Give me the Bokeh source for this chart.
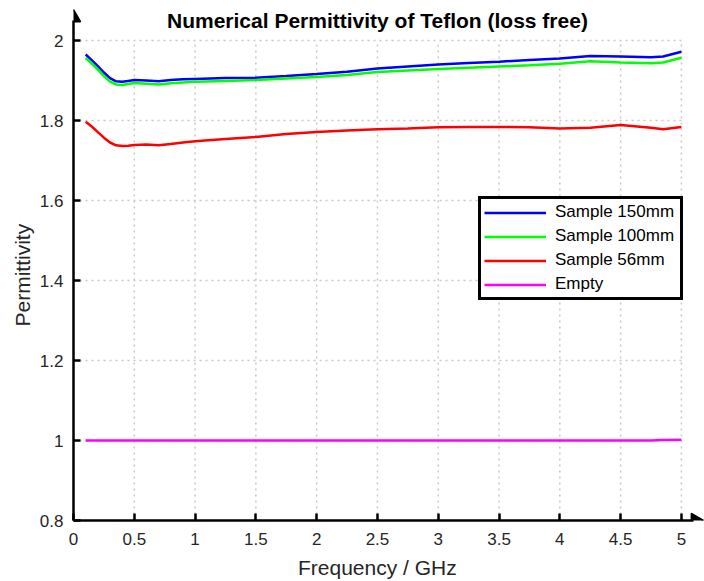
import math
from bokeh.plotting import figure
from bokeh.models import (Range1d, FixedTicker, CustomJSTickFormatter, Legend, LegendItem)
from bokeh.core.properties import value
from bokeh.embed import file_html
from bokeh.resources import INLINE

title_text = "Numerical Permittivity of Teflon (loss free)"
x_label = "Frequency / GHz"
y_label = "Permittivity"

freq = [0.1, 0.15, 0.2, 0.25, 0.3, 0.35, 0.4, 0.45, 0.5, 0.6, 0.7, 0.8, 0.9, 1.0, 1.25, 1.5,
        1.75, 2.0, 2.25, 2.5, 2.75, 3.0, 3.25, 3.5, 3.75, 4.0, 4.25, 4.5, 4.75, 4.85, 5.0]
sample_150 = [1.965, 1.951, 1.936, 1.920, 1.906, 1.898, 1.897, 1.899, 1.901, 1.900, 1.898,
              1.901, 1.903, 1.904, 1.906, 1.907, 1.911, 1.916, 1.922, 1.930, 1.935, 1.940,
              1.944, 1.947, 1.951, 1.955, 1.961, 1.960, 1.958, 1.960, 1.972]
sample_100 = [1.956, 1.942, 1.927, 1.911, 1.897, 1.890, 1.889, 1.891, 1.894, 1.892, 1.890,
              1.893, 1.895, 1.897, 1.899, 1.901, 1.905, 1.909, 1.914, 1.921, 1.925, 1.929,
              1.932, 1.935, 1.938, 1.942, 1.948, 1.945, 1.943, 1.945, 1.957]
sample_56 = [1.797, 1.785, 1.771, 1.757, 1.745, 1.738, 1.736, 1.737, 1.739, 1.740, 1.738,
             1.741, 1.745, 1.748, 1.754, 1.759, 1.766, 1.771, 1.775, 1.778, 1.780, 1.783,
             1.784, 1.784, 1.783, 1.780, 1.782, 1.789, 1.782, 1.778, 1.784]
empty = [1.0] * 29 + [1.001, 1.002]

x_ticks = [0, 0.5, 1, 1.5, 2, 2.5, 3, 3.5, 4, 4.5, 5]
y_ticks = [0.8, 1.0, 1.2, 1.4, 1.6, 1.8, 2.0]

FONT = "Liberation Sans"
TXT = "#262626"
NB = "\u00a0"

# frame extends a little beyond the data area so that the axis arrows fit in it
p = figure(width=704, height=581, output_backend="svg", toolbar_location=None, title=None,
           x_range=Range1d(0, 5.19), y_range=Range1d(0.8, 2.085),
           min_border_left=73, min_border_right=0, min_border_top=6, min_border_bottom=61)
p.outline_line_color = None
p.xgrid.visible = False
p.ygrid.visible = False

for ax in (p.xaxis[0], p.yaxis[0]):
    ax.axis_line_width = 2.5
    ax.axis_line_color = "#000000"
    ax.major_tick_in = 7
    ax.major_tick_out = 0
    ax.major_tick_line_width = 2.5
    ax.major_tick_line_color = "#000000"
    ax.minor_tick_line_color = None
    ax.major_label_text_font = FONT
    ax.major_label_text_font_size = "17px"
    ax.major_label_text_color = TXT
    ax.axis_label_text_font = FONT
    ax.axis_label_text_font_size = "21px"
    ax.axis_label_text_font_style = "normal"
    ax.axis_label_text_color = TXT
    ax.formatter = CustomJSTickFormatter(code="return Number(tick.toFixed(2)).toString();")

p.xaxis[0].ticker = FixedTicker(ticks=x_ticks)
p.yaxis[0].ticker = FixedTicker(ticks=y_ticks)
p.xaxis[0].bounds = (0, 5.1)
p.yaxis[0].bounds = (0.8, 2.05)
# non-breaking padding keeps the labels centred on the data area
p.xaxis[0].axis_label = x_label + NB * 4
p.yaxis[0].axis_label = y_label + NB * 4
p.xaxis[0].major_label_standoff = 12
p.yaxis[0].major_label_standoff = 10
p.xaxis[0].axis_label_standoff = 8
p.yaxis[0].axis_label_standoff = 3

# dotted grid over the data area only
nx, ny = len(x_ticks), len(y_ticks)
p.segment(x0=x_ticks, y0=[y_ticks[0]] * nx, x1=x_ticks, y1=[y_ticks[-1]] * nx,
          line_color="#c8c8c8", line_dash="2 4", line_width=1.5)
p.segment(x0=[x_ticks[0]] * ny, y0=y_ticks, x1=[x_ticks[-1]] * ny, y1=y_ticks,
          line_color="#c8c8c8", line_dash="2 4", line_width=1.5)

r1 = p.line(freq, sample_150, line_color="#0000ff", line_width=2.5)
r2 = p.line(freq, sample_100, line_color="#00ff00", line_width=2.5)
r3 = p.line(freq, sample_56, line_color="#ff0000", line_width=2.5)
r4 = p.line(freq, empty, line_color="#ff00ff", line_width=2.5)

# arrow heads at the ends of the axes
p.scatter(x=[x_ticks[0]], y=[2.057], marker="triangle", size=14,
          fill_color="black", line_color="black", line_width=1.5)
p.scatter(x=[5.115], y=[y_ticks[0]], marker="triangle", size=14, angle=-math.pi / 2,
          fill_color="black", line_color="black", line_width=1.5)

# title
p.text(x=[(x_ticks[0] + x_ticks[-1]) / 2], y=[2.05], text=[title_text],
       text_font=value(FONT), text_font_style="bold", text_font_size="21px",
       text_color="#000000", text_align="center", text_baseline="middle")

legend = Legend(items=[LegendItem(label="Sample 150mm", renderers=[r1]),
                       LegendItem(label="Sample 100mm", renderers=[r2]),
                       LegendItem(label="Sample 56mm", renderers=[r3]),
                       LegendItem(label="Empty", renderers=[r4])],
                location=(405, 220))
legend.border_line_color = "#000000"
legend.border_line_alpha = 1.0
legend.border_line_width = 3
legend.label_text_font = FONT
legend.label_text_font_size = "17px"
legend.label_text_color = "#000000"
legend.glyph_width = 62
legend.glyph_height = 19
legend.label_height = 19
legend.label_width = 122
legend.spacing = 4
legend.padding = 3
legend.margin = 0
legend.label_standoff = 9
legend.background_fill_alpha = 1
p.add_layout(legend)

open("out.html", "w").write(file_html(p, INLINE))
